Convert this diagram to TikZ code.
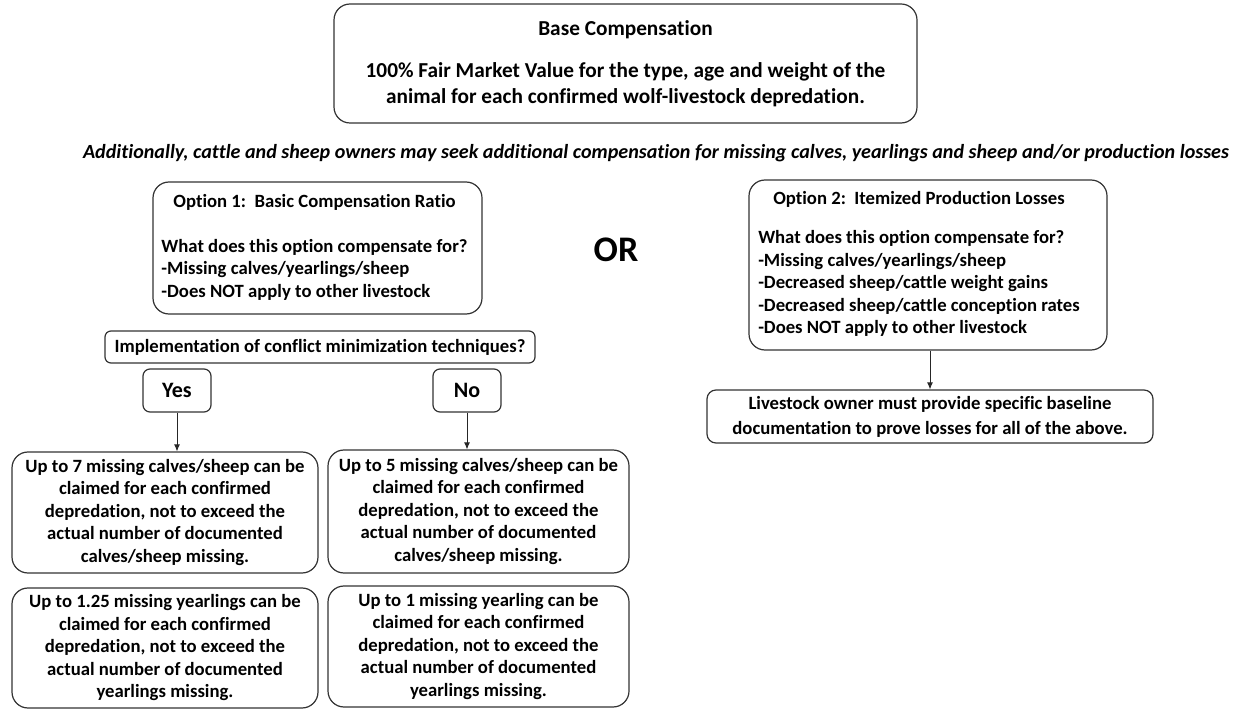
\documentclass[tikz,border=0pt]{standalone}
\usepackage{fontspec}
\setmainfont{Carlito}[Ligatures=NoCommon]
\usetikzlibrary{arrows.meta}
\begin{document}
\begin{tikzpicture}[x=1pt,y=-1pt,
  box/.style={draw=black!80, line width=1.2pt, rounded corners=16pt, inner sep=0pt, align=center,
    font=\bfseries\fontsize{18.7pt}{22.5pt}\selectfont},
  smallbox/.style={box, rounded corners=6pt},
  conn/.style={draw=black!85, line width=0.9pt, -{Latex[length=7pt,width=6pt]}}
]
\useasboundingbox (0,0) rectangle (1243,719);
\node[box, minimum width=583, minimum height=119, font=\bfseries\fontsize{21.3pt}{26pt}\selectfont] (base) at (625.5,63.5)
  {Base Compensation\\[16pt]100\% Fair Market Value for the type, age and weight of the\\animal for each confirmed wolf-livestock depredation.};
\node[font=\bfseries\itshape\fontsize{20.1pt}{24pt}\selectfont, inner sep=0pt] (add) at (656,153)
  {Additionally, cattle and sheep owners may seek additional compensation for missing calves, yearlings and sheep and/or production losses};
\node[box, minimum width=329, minimum height=132] (opt1) at (317.5,248)
  {\begin{tabular}{@{}l@{}}\multicolumn{1}{@{}c@{}}{Option 1:\ \ Basic Compensation Ratio}\\[22.5pt]
   What does this option compensate for?\\-Missing calves/yearlings/sheep\\-Does NOT apply to other livestock\end{tabular}\hspace*{6pt}};
\node[font=\bfseries\fontsize{36pt}{40pt}\selectfont, inner sep=0pt] (or) at (616,250) {OR};
\node[box, minimum width=358, minimum height=170] (opt2) at (928,265)
  {\begin{tabular}{@{}l@{}}\multicolumn{1}{@{}c@{}}{Option 2:\ \ Itemized Production Losses}\\[16.5pt]
   What does this option compensate for?\\-Missing calves/yearlings/sheep\\-Decreased sheep/cattle weight gains\\-Decreased sheep/cattle conception rates\\-Does NOT apply to other livestock\end{tabular}\hspace*{18pt}};
\node[box, rounded corners=9pt, minimum width=446, minimum height=53, font=\bfseries\fontsize{18.7pt}{25pt}\selectfont] (live) at (930,416.5)
  {Livestock owner must provide specific baseline\\documentation to prove losses for all of the above.};
\node[smallbox, minimum width=430, minimum height=32] (impl) at (320,347)
  {Implementation of conflict minimization techniques?};
\node[smallbox, rounded corners=7pt, minimum width=68, minimum height=43, font=\bfseries\fontsize{22pt}{24pt}\selectfont] (yes) at (177,390.5) {Yes};
\node[smallbox, rounded corners=7pt, minimum width=68, minimum height=43, font=\bfseries\fontsize{22pt}{24pt}\selectfont] (no) at (467,390.5) {No};
\node[box, minimum width=306, minimum height=121] (a) at (165,512.5)
  {Up to 7 missing calves/sheep can be\\claimed for each confirmed\\depredation, not to exceed the\\actual number of documented\\calves/sheep missing.};
\node[box, minimum width=301, minimum height=123] (b) at (478.5,511.5)
  {Up to 5 missing calves/sheep can be\\claimed for each confirmed\\depredation, not to exceed the\\actual number of documented\\calves/sheep missing.};
\node[box, minimum width=306, minimum height=120] (c) at (165,648)
  {Up to 1.25 missing yearlings can be\\claimed for each confirmed\\depredation, not to exceed the\\actual number of documented\\yearlings missing.};
\node[box, minimum width=301, minimum height=121] (d) at (478.5,646.5)
  {Up to 1 missing yearling can be\\claimed for each confirmed\\depredation, not to exceed the\\actual number of documented\\yearlings missing.};
\draw[conn] (yes.south) -- (yes.south |- a.north);
\draw[conn] (no.south) -- (no.south |- b.north);
\draw[conn] (opt2.south -| live.north) -- (live.north);
\end{tikzpicture}
\end{document}
